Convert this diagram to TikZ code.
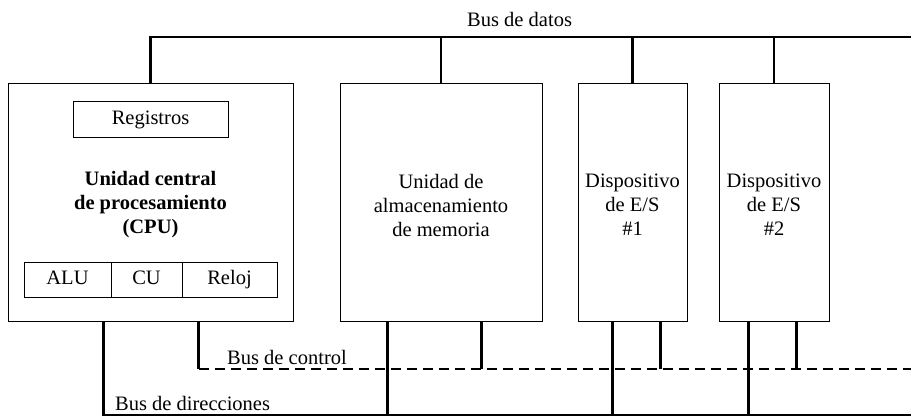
\documentclass[tikz,border=0pt]{standalone}
\usepackage{fontspec}
\setmainfont{Liberation Serif}
\begin{document}
\begin{tikzpicture}[x=1pt,y=-1pt,
  box/.style={draw,line width=1pt,inner sep=0pt,anchor=center},
  lbl/.style={inner sep=0pt,font=\fontsize{20.5}{24}\selectfont},
  cell/.style={box,lbl,text height=14pt,text depth=4pt},
  bus/.style={line width=2.2pt},
  ctrl/.style={line width=2.2pt,dash pattern=on 10pt off 6pt}]
\useasboundingbox (0,0) rectangle (911,417);
% main boxes
\node[box,minimum width=285pt,minimum height=237pt] (cpu) at (150.5,202.5) {};
\node[box,minimum width=202pt,minimum height=237pt] (mem) at (441,202.5) {};
\node[box,minimum width=109pt,minimum height=237pt] (io1) at (632.5,202.5) {};
\node[box,minimum width=110pt,minimum height=237pt] (io2) at (774,202.5) {};
% CPU internals
\node[cell,minimum width=155pt,minimum height=36pt] (reg) at (150.5,120) {Registros};
\node[cell,minimum width=87pt,minimum height=35pt] (alu) at (67.5,279.5) {ALU};
\node[cell,minimum width=71pt,minimum height=35pt] (cu) at (146.5,279.5) {CU};
\node[cell,minimum width=95pt,minimum height=35pt] (reloj) at (229.5,279.5) {Reloj};
% texts
\node[lbl,align=center,font=\fontsize{20.5}{24}\selectfont\bfseries] (cput) at (150.5,205) {Unidad central\\de procesamiento\\(CPU)};
\node[lbl,align=center] (memt) at (441,205) {Unidad de\\almacenamiento\\de memoria};
\node[lbl,align=center] (io1t) at (632.5,205) {Dispositivo\\de E/S\\\#1};
\node[lbl,align=center] (io2t) at (774,205) {Dispositivo\\de E/S\\\#2};
% bus labels
\node[lbl,anchor=west] (ldat) at (467,19) {Bus de datos};
\node[lbl,anchor=west] (lctl) at (227,357) {Bus de control};
\node[lbl,anchor=west] (ladr) at (115,403) {Bus de direcciones};
% bus ends
\coordinate (dbR) at (911,37);
\coordinate (cbR) at (911,369);
\coordinate (abR) at (911,415);
% data bus
\draw[bus] (cpu.north) |- (dbR);
\draw[bus] (mem.north) -- (mem.north |- dbR);
\draw[bus] (io1.north) -- (io1.north |- dbR);
\draw[bus] (io2.north) -- (io2.north |- dbR);
% control bus
\draw[bus] ([xshift=191pt]cpu.south west) -- ([xshift=191pt]cpu.south west |- cbR) coordinate (c0);
\draw[ctrl] (c0) -- (cbR);
\draw[bus] ([xshift=142pt]mem.south west) -- ([xshift=142pt]mem.south west |- cbR);
\draw[bus] ([xshift=83pt]io1.south west) -- ([xshift=83pt]io1.south west |- cbR);
\draw[bus] ([xshift=78pt]io2.south west) -- ([xshift=78pt]io2.south west |- cbR);
% address bus
\draw[bus] ([xshift=96pt]cpu.south west) |- (abR);
\draw[bus] ([xshift=48pt]mem.south west) -- ([xshift=48pt]mem.south west |- abR);
\draw[bus] ([xshift=35pt]io1.south west) -- ([xshift=35pt]io1.south west |- abR);
\draw[bus] ([xshift=30pt]io2.south west) -- ([xshift=30pt]io2.south west |- abR);
\end{tikzpicture}
\end{document}
